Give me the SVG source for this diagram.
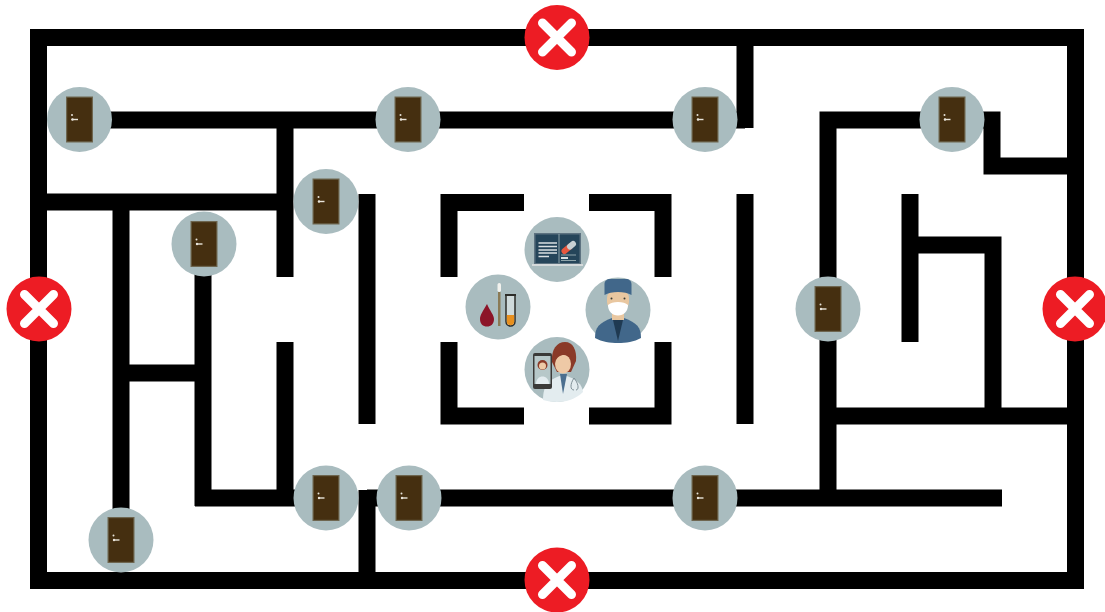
<svg xmlns="http://www.w3.org/2000/svg" width="1105" height="612" viewBox="0 0 1105 612">
<style>
.w{fill:none;stroke:#000;stroke-width:17;stroke-linecap:butt;stroke-linejoin:miter}
.bg{fill:#a9bcbf}
</style>
<defs>
<g id="door">
<circle r="32.5" fill="#a9bcbf"/>
<rect x="-13.500" y="-23" width="27" height="46" fill="#6e6650"/>
<rect x="-12.300" y="-21.800" width="24.600" height="43.600" fill="#452f10"/>
<circle cx="-7.500" cy="-4.500" r="1" fill="#e8e4da"/>
<rect x="-8" y="-0.700" width="6.500" height="1.400" fill="#e8e4da"/>
<circle cx="-7" cy="0" r="1.200" fill="#e8e4da"/>
</g>
<g id="no">
<circle r="32.5" fill="#ed1c24"/>
<path d="M-14.500-14.500L14.500 14.500M14.500-14.500L-14.500 14.500" fill="none" stroke="#fff" stroke-width="9" stroke-linecap="round"/>
</g>
</defs>
<rect width="1105" height="612" fill="#fff"/>
<g id="connectors">
<rect class="w" x="38.5" y="37.5" width="1037" height="543"/>
<path class="w" d="M80 120H745M745 37V128"/>
<path class="w" d="M285 120V277M38 202H285"/>
<path class="w" d="M285 342V506M195 498H295M203 243V506"/>
<path class="w" d="M121 202V540M121 373H203"/>
<path class="w" d="M367 194V424M367 490V580"/>
<path class="w" d="M449 277V202.500H524M589 202.500H663V277"/>
<path class="w" d="M449 342V416H524M589 416H663V342"/>
<path class="w" d="M745 194V424"/>
<path class="w" d="M828 500V120H992V166H1075"/>
<path class="w" d="M367 498H1002"/>
<path class="w" d="M910 194V342M910 245H993V416M828 416H1075"/>
</g>
<g id="door-1"><use href="#door" x="79.500" y="119.500"/></g>
<g id="door-2"><use href="#door" x="408" y="119.500"/></g>
<g id="door-3"><use href="#door" x="705" y="119.500"/></g>
<g id="door-4"><use href="#door" x="952" y="119.500"/></g>
<g id="door-5"><use href="#door" x="326" y="201.500"/></g>
<g id="door-6"><use href="#door" x="204" y="244"/></g>
<g id="door-7"><use href="#door" x="828" y="309"/></g>
<g id="door-8"><use href="#door" x="326" y="498"/></g>
<g id="door-9"><use href="#door" x="409" y="498"/></g>
<g id="door-10"><use href="#door" x="705" y="498"/></g>
<g id="door-11"><use href="#door" x="121" y="540"/></g>
<g id="no-top"><use href="#no" x="557" y="37.500"/></g>
<g id="no-bottom"><use href="#no" x="557" y="580"/></g>
<g id="no-left"><use href="#no" x="39" y="309"/></g>
<g id="no-right"><use href="#no" x="1075" y="309"/></g>
<g id="icon-monitor">
<circle class="bg" cx="557" cy="249.500" r="32.500"/>
<rect x="534" y="233" width="47" height="31" fill="#5d7280"/>
<rect x="535.500" y="234.500" width="44" height="28.500" fill="#25455a"/>
<rect x="532" y="264" width="51" height="2" fill="#d5dadb"/>
<path d="M538.500 243H557M538.500 246.500H557M538.500 250H557M538.500 253H557M538.500 256.500H549" stroke="#d9e0e2" stroke-width="1.700" fill="none"/>
<path d="M559 234V263" stroke="#a9bcbf" stroke-width="0.800"/>
<path d="M564.500 251L570 246.500" stroke="#e8583f" stroke-width="6" stroke-linecap="round"/>
<path d="M570 246.500L573 244" stroke="#c8d0d3" stroke-width="6" stroke-linecap="round"/>
<path d="M561 255H576M561 260.500H576" stroke="#a9bcbf" stroke-width="0.800" fill="none"/>
<rect x="561" y="257" width="7" height="2" fill="#d9e0e2"/>
</g>
<g id="icon-blood">
<circle class="bg" cx="498" cy="307" r="32.500"/>
<path d="M487 304C483 311 480 315 480 319C480 324 483 326.500 487 326.500C491 326.500 494 324 494 319C494 315 490 311 487 304Z" fill="#8c1428"/>
<rect x="498" y="292" width="2.500" height="34" fill="#8a7a55"/>
<rect x="497.500" y="283" width="3.500" height="9" rx="1.700" fill="#f2f2ee"/>
<path d="M506 295H515V321.500A4.500 4.500 0 0 1 506 321.500Z" fill="#cfdadb" stroke="#2c2c28" stroke-width="1.500"/>
<path d="M506.800 315H514.200V321.500A3.700 3.700 0 0 1 506.800 321.500Z" fill="#e8901e"/>
<rect x="505" y="294" width="11" height="2" fill="#2c2c28"/>
</g>
<g id="icon-surgeon">
<circle class="bg" cx="618" cy="310" r="32.500"/>
<path d="M595 338C595 327 599 323 612 318H624C637 323 641 327 641 338C634 342 626 343 618 343C610 343 602 342 595 338Z" fill="#41678a"/>
<path d="M613 320L618 341L623 320Z" fill="#1f3a52"/>
<rect x="612" y="310" width="12" height="10" fill="#e9c7a0"/>
<rect x="607" y="290" width="22" height="20" rx="8" fill="#e9c7a0"/>
<path d="M604.500 295V284C604.500 281 607 279 610 279H626C629 279 631.500 281 631.500 284V295C625 291 611 291 604.500 295Z" fill="#41678a"/>
<path d="M608 305C612 301 624 301 628 305C628 311 624 315.500 618 315.500C612 315.500 608 311 608 305Z" fill="#fff"/>
<circle cx="611.500" cy="298.500" r="1" fill="#3b3b33"/><circle cx="624.500" cy="298.500" r="1" fill="#3b3b33"/>
</g>
<g id="icon-doctor">
<circle class="bg" cx="557" cy="369.500" r="32.500"/>
<path d="M543 400C543 385 549 379 563 375C578 379 582 385 583 392C576 399 566 402 557 402C552 402 547 401 543 400Z" fill="#e3ecef"/>
<path d="M552 362C551 349 557 342 565 342C573 342 577 350 576 361L571 372H557Z" fill="#8a3a28"/>
<ellipse cx="563" cy="364" rx="8" ry="9.500" fill="#eec9a6"/>
<path d="M555 362C558 354 567 352 572 360C572 350 556 348 555 362Z" fill="#8a3a28"/>
<path d="M560 374L563 394L567 374Z" fill="#4b6f8f"/>
<path d="M574 378C570 384 570 390 574 390M574 378C579 384 579 390 576 390" fill="none" stroke="#7f8f96" stroke-width="1"/>
<rect x="533" y="353" width="19" height="36" rx="2" fill="#3a3a38"/>
<rect x="534.500" y="356" width="16" height="28" fill="#b7c8c9"/>
<circle cx="542.500" cy="365" r="5" fill="#8a3a28"/>
<circle cx="542.500" cy="366" r="3.500" fill="#eec9a6"/>
<path d="M536 384C536 374 549 374 549 384Z" fill="#e3ecef"/>
</g>
</svg>
